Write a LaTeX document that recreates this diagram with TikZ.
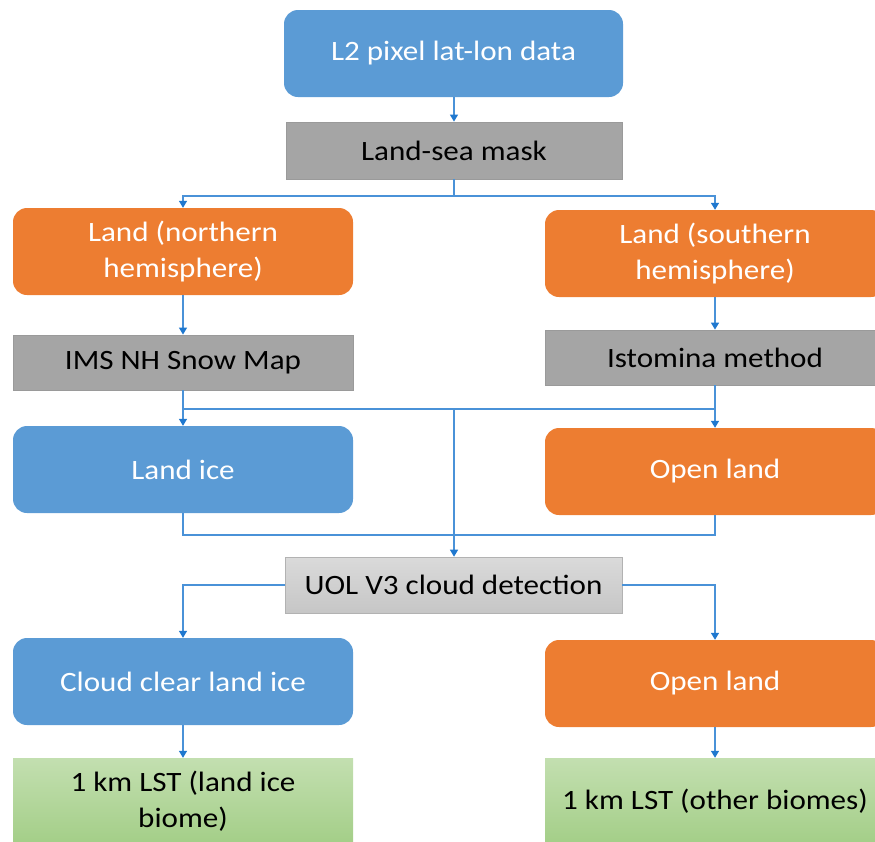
\documentclass[tikz,border=0pt]{standalone}
\usepackage{fontspec}
\setmainfont[FakeStretch=1.11]{Carlito}
\usetikzlibrary{arrows.meta,calc}
\definecolor{cblue}{HTML}{5B9BD5}
\definecolor{corange}{HTML}{ED7D31}
\definecolor{cgray}{HTML}{A5A5A5}
\definecolor{cgrayedge}{HTML}{9A9A9A}
\definecolor{clgtop}{HTML}{DADADA}
\definecolor{clgbot}{HTML}{C6C6C6}
\definecolor{cgtop}{HTML}{C3DFB0}
\definecolor{cgbot}{HTML}{A3CE87}
\definecolor{cline}{HTML}{4A92D8}
\definecolor{ctip}{HTML}{1F78CF}
\tikzset{
  base/.style={minimum width=340pt,align=center,font=\fontsize{28}{36}\selectfont,inner sep=0pt},
  bluebox/.style={base,fill=cblue,text=white,rounded corners=14pt,minimum height=87pt},
  orangebox/.style={base,fill=corange,text=white,rounded corners=14pt,minimum height=87pt},
  graybox/.style={base,fill=cgray,draw=cgrayedge,line width=0.8pt,text=black,minimum height=56pt},
  lgraybox/.style={base,top color=clgtop,bottom color=clgbot,draw=clgbot!90!black,line width=0.6pt,text=black,minimum height=56pt,minimum width=337pt},
  greenbox/.style={base,top color=cgtop,bottom color=cgbot,text=black,minimum height=87pt},
  link/.style={draw=cline,line width=1.3pt},
  conn/.style={link,-{Triangle[width=8pt,length=7pt,fill=ctip,color=ctip]}}
}
\begin{document}
\begin{tikzpicture}[x=1pt,y=-1pt]
\useasboundingbox (0,0) rectangle (875,841);
\clip (0,0) rectangle (875,841);
\node[bluebox,minimum width=339pt] (l2) at (453.5,53.5) {L2 pixel lat-lon data};
\node[graybox,minimum width=336pt,minimum height=57pt] (mask) at (454,150.5) {Land-sea mask};
\node[orangebox] (landN) at (183,251.5) {Land (northern\\hemisphere)};
\node[orangebox] (landS) at (715,253.5) {Land (southern\\hemisphere)};
\node[graybox,minimum height=55pt] (ims) at (183,362.5) {IMS NH Snow Map};
\node[graybox,minimum height=55pt] (ist) at (715,357.5) {Istomina method};
\node[bluebox] (ice) at (183,469.5) {Land ice};
\node[orangebox] (open) at (715,471.5) {Open land};
\node[lgraybox] (uol) at (453.5,585) {UOL V3 cloud detection};
\node[bluebox] (clear) at (183,681.5) {Cloud clear land ice};
\node[orangebox] (open2) at (715,683.5) {Open land};
\node[greenbox] (g1) at (183,801.5) {1 km LST (land ice\\biome)};
\node[greenbox] (g2) at (715,801.5) {1 km LST (other biomes)};

\coordinate (j1) at (454,196);
\draw[link] (mask.south) -- (j1);
\draw[conn] (j1) -| (landN.north);
\draw[conn] (j1) -| (landS.north);
\draw[conn] (l2.south -| mask.north) -- (mask.north);
\draw[conn] (landN) -- (ims);
\draw[conn] (landS) -- (ist);

\coordinate (j2) at (454,409);
\draw[link] (ims.south) -- (ims.south |- j2) -- (ist.south |- j2) -- (ist.south);
\draw[conn] (ims.south |- j2) -- (ice.north);
\draw[conn] (ist.south |- j2) -- (open.north);
\draw[conn] (j2) -- (uol.north -| j2);

\coordinate (j3) at (454,535);
\draw[link] (ice.south) -- (ice.south |- j3) -- (open.south |- j3) -- (open.south);

\draw[conn] (uol.west) -| (clear.north);
\draw[conn] (uol.east) -| (open2.north);
\draw[conn] (clear) -- (g1);
\draw[conn] (open2) -- (g2);
\end{tikzpicture}
\end{document}
